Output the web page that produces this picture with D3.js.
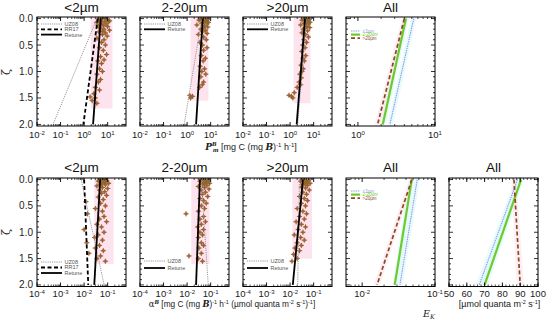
<!DOCTYPE html>
<html>
<head>
<meta charset="utf-8">
<script src="https://cdn.jsdelivr.net/npm/d3@7"></script>
<style>
  body { margin: 0; background: #fff; }
  svg { font-family: "Liberation Sans", Arial, sans-serif; }
</style>
</head>
<body>
<div id="chart"></div>
<script>
// ---- data ----
const sizeClasses = ["<2µm", "2-20µm", ">20µm"];
const zetaTicks = [0, 0.5, 1, 1.5, 2];
const lineZeta = [0, 2];

// Pm^B observations [zeta, value]
const pmSmall = [[0.00,6.0],[0.01,4.0],[0.02,9.5],[0.03,4.5],[0.04,12],[0.05,7.5],[0.06,11],[0.07,3.4],[0.08,5.5],[0.1,8.5],[0.11,4.8],[0.12,3.8],[0.13,6.5],[0.15,10],[0.16,4.4],[0.18,5],[0.2,7],[0.22,12],[0.24,6],[0.25,4.2],[0.27,8],[0.3,6],[0.33,9.5],[0.37,3.5],[0.4,7],[0.45,5.5],[0.5,8],[0.55,4.5],[0.6,6.5],[0.68,9],[0.72,5],[0.78,7],[0.8,3.8],[0.85,5.5],[0.95,4.5],[1.0,6],[1.05,3.5],[1.15,5],[1.2,4],[1.3,3],[1.35,4.5],[1.42,2.6],[1.48,1.8],[1.5,3],[1.55,2.2],[1.6,3.5]];
const pmMid = [[0.0,5],[0.01,3.6],[0.02,7.5],[0.03,3.2],[0.04,5.8],[0.05,6.5],[0.07,8],[0.08,4.6],[0.09,4.2],[0.1,7],[0.12,2.6],[0.14,5.5],[0.16,7.5],[0.18,4.8],[0.2,3.8],[0.22,6],[0.25,4.5],[0.28,7],[0.3,3],[0.35,5],[0.4,6.5],[0.45,3.5],[0.5,4.5],[0.55,7],[0.6,5],[0.7,4],[0.75,6],[0.8,4.8],[0.9,3.6],[0.95,5.5],[1.0,4.2],[1.05,6.2],[1.1,3.8],[1.2,5],[1.25,4.4],[1.3,3.4],[1.45,1.3],[1.47,1.7],[1.5,1.4]];
const pmLarge = [[0.0,4.5],[0.01,3.8],[0.02,6.5],[0.03,3.2],[0.04,5.2],[0.05,5.5],[0.07,7],[0.08,4.8],[0.09,4],[0.1,6],[0.12,2.8],[0.15,5],[0.17,6.8],[0.18,4.2],[0.2,3.6],[0.23,5.5],[0.27,3.2],[0.3,4.5],[0.35,6],[0.4,3.8],[0.45,5],[0.5,3.4],[0.55,4.3],[0.62,3.1],[0.7,4.6],[0.75,3.5],[0.8,4],[0.88,2.9],[0.95,3.6],[1.0,3.2],[1.05,2.6],[1.12,3],[1.2,2.4],[1.25,2.8],[1.3,2],[1.4,1.5],[1.45,0.9],[1.47,1.15],[1.5,1.3]];

// alpha^B observations [zeta, value]
const alphaSmall = [[0.0,0.06],[0.01,0.045],[0.02,0.09],[0.03,0.04],[0.04,0.075],[0.05,0.07],[0.07,0.11],[0.08,0.055],[0.09,0.05],[0.1,0.08],[0.12,0.035],[0.15,0.06],[0.17,0.1],[0.2,0.045],[0.23,0.075],[0.26,0.055],[0.3,0.09],[0.33,0.04],[0.38,0.065],[0.42,0.012],[0.45,0.05],[0.5,0.08],[0.55,0.03],[0.6,0.06],[0.65,0.014],[0.7,0.07],[0.75,0.045],[0.8,0.09],[0.85,0.035],[0.9,0.055],[0.95,0.01],[1.0,0.07],[1.05,0.04],[1.1,0.028],[1.15,0.06],[1.2,0.013],[1.25,0.045],[1.3,0.03],[1.35,0.065],[1.4,0.016],[1.45,0.05],[1.5,0.035],[1.55,0.08]];
const alphaMid = [[0.0,0.05],[0.01,0.04],[0.02,0.08],[0.03,0.035],[0.04,0.06],[0.05,0.065],[0.07,0.09],[0.08,0.052],[0.09,0.045],[0.11,0.07],[0.13,0.03],[0.15,0.055],[0.18,0.085],[0.2,0.04],[0.24,0.06],[0.28,0.045],[0.32,0.075],[0.36,0.035],[0.4,0.05],[0.45,0.065],[0.5,0.04],[0.55,0.055],[0.6,0.03],[0.65,0.009],[0.7,0.05],[0.75,0.035],[0.8,0.06],[0.85,0.04],[0.9,0.028],[0.95,0.05],[1.0,0.035],[1.05,0.045],[1.1,0.03],[1.2,0.04],[1.25,0.05],[1.3,0.032],[1.4,0.04],[1.45,0.012],[1.5,0.03],[1.55,0.045]];
const alphaLarge = [[0.0,0.04],[0.01,0.033],[0.02,0.06],[0.03,0.028],[0.04,0.048],[0.05,0.05],[0.07,0.07],[0.08,0.042],[0.09,0.035],[0.11,0.055],[0.14,0.03],[0.16,0.045],[0.2,0.065],[0.24,0.035],[0.28,0.05],[0.32,0.025],[0.36,0.04],[0.4,0.055],[0.45,0.03],[0.5,0.045],[0.55,0.02],[0.6,0.035],[0.65,0.05],[0.7,0.025],[0.75,0.04],[0.8,0.018],[0.85,0.03],[0.9,0.045],[0.95,0.022],[1.0,0.035],[1.05,0.015],[1.1,0.028],[1.15,0.04],[1.2,0.02],[1.25,0.03],[1.3,0.016],[1.35,0.025],[1.42,0.014],[1.5,0.02],[1.55,0.012]];

// shaded observation ranges [low, high, zeta max]
const pmObsRange = [[1.9, 16, 1.7], [1.4, 8, 1.55], [1.4, 7.3, 1.6]];
const alphaObsRange = [[0.027, 0.18, 1.6], [0.015, 0.089, 1.6], [0.0125, 0.085, 1.5]];

// model lines: value at zeta = 0 and zeta = 2
const pmUZ08 = [[3.5, 0.048], [4.2, 0.75], [4.8, 2.1]];
const pmRR17 = [3.8, 0.93];
const pmRetune = [[5.1, 2.4], [4.6, 2.4], [4.3, 1.9]];
const alphaUZ08 = [[0.0075, 0.071], [0.04, 0.079], [0.025, 0.021]];
const alphaRR17 = [0.010, 0.015];
const alphaRetune = [[0.048, 0.027], [0.035, 0.024], [0.035, 0.013]];

// "All" panels, one line per size class + faint band [lo0, hi0, lo2, hi2]
const pmAll = [[5.3, 2.6], [4.2, 2.1], [4.0, 1.8]];
const alphaAll = [[0.057, 0.033], [0.048, 0.028], [0.048, 0.016]];
const ekAll = [[88.5, 67], [90.5, 70], [86.5, 90]];
const pmAllBand = [[4.9, 5.7, 2.4, 2.85], [3.9, 4.6, 1.9, 2.3], [3.7, 4.4, 1.65, 2.0]];
const alphaAllBand = [[0.052, 0.062, 0.03, 0.036], [0.044, 0.052, 0.026, 0.031], [0.044, 0.052, 0.0145, 0.0175]];
const ekAllBand = [[87, 90, 65, 69], [89, 92, 68, 72], [85, 88, 88, 92]];

// ---- layout ----
const W = 550, H = 320;
const rowTop = [17, 178];
const rowBottom = [126, 286.5];
const colLeft = [37, 140, 243, 346, 449];
const panelW = 89;

const styles = {
  uz: { stroke: "#9a9a9a", width: 1, dash: "1.2,1" },
  rr: { stroke: "#000", width: 1.8, dash: "4,2.5" },
  retune: { stroke: "#000", width: 1.8, dash: null },
  c0: { stroke: "#8c9ee6", width: 1.1, dash: "1.5,0.8" },
  c1: { stroke: "#6acc2c", width: 2.2, dash: null },
  c2: { stroke: "#8b4a1c", width: 1.7, dash: "4,2.5" }
};
const legendNames = { uz: "UZ08", rr: "RR17", retune: "Retune", c0: "<2µm", c1: "2-20µm", c2: ">20µm" };
const bandFill = ["#d9f7f9", "#d9f7f9", "#fbe3ee"];

const svg = d3.select("#chart").append("svg").attr("width", W).attr("height", H);

// text with superscripts / subscripts
function richText(sel, x, y, parts, opts = {}) {
  const t = sel.append("text")
    .attr("x", x).attr("y", y)
    .attr("text-anchor", opts.anchor || "middle")
    .attr("font-size", opts.size || 9.5)
    .attr("fill", opts.fill || "#222");
  let shift = 0;
  parts.forEach((p) => {
    const s = t.append("tspan").text(p.t);
    const ns = p.shift || 0;
    if (ns !== shift) s.attr("dy", ns - shift);
    shift = ns;
    if (p.size) s.attr("font-size", p.size);
    if (p.dx) s.attr("dx", p.dx);
    if (p.font) s.attr("font-family", p.font);
    if (p.italic) s.attr("font-style", "italic");
    if (p.bold) s.attr("font-weight", "bold");
  });
  return t;
}

function powLabel(exp) {
  return [{ t: "10" }, { t: String(exp), shift: -3.5, size: 6 }];
}

function panel(cfg) {
  const top = rowTop[cfg.row], bottom = rowBottom[cfg.row];
  const left = colLeft[cfg.col], right = left + panelW;
  const x = cfg.log
    ? d3.scaleLog(cfg.domain, [left, right])
    : d3.scaleLinear(cfg.domain, [left, right]);
  const y = d3.scaleLinear([-0.03, 2.03], [top, bottom]);

  const g = svg.append("g");
  const clipId = `clip-${cfg.row}-${cfg.col}`;
  g.append("clipPath").attr("id", clipId)
    .append("rect").attr("x", left).attr("y", top)
    .attr("width", panelW).attr("height", bottom - top);
  const plot = g.append("g").attr("clip-path", `url(#${clipId})`);

  const line = d3.line().x((d) => x(d[1])).y((d) => y(d[0]));

  // faint bands around "All" lines
  (cfg.bands || []).forEach((b, i) => {
    plot.append("path")
      .attr("d", line([[0, b[0]], [2, b[2]], [2, b[3]], [0, b[1]]]) + "Z")
      .attr("fill", bandFill[i]).attr("opacity", 0.6);
  });

  // observation range shading
  if (cfg.obsRange) {
    const r = cfg.obsRange;
    plot.append("rect")
      .attr("x", x(r[0])).attr("y", y(-0.03))
      .attr("width", x(r[1]) - x(r[0]))
      .attr("height", y(r[2]) - y(-0.03))
      .attr("fill", "#fce3ee");
  }

  // observations
  if (cfg.points) {
    plot.append("g").selectAll("circle").data(cfg.points).join("circle")
      .attr("cx", (d) => x(d[1])).attr("cy", (d) => y(d[0]))
      .attr("r", 1.8).attr("fill", "#ee2a30").attr("opacity", 0.65);
    plot.append("g").selectAll("path").data(cfg.points).join("path")
      .attr("d", (d) => {
        const px = x(d[1]), py = y(d[0]);
        return `M${px - 2.6},${py}H${px + 2.6}M${px},${py - 2.6}V${py + 2.6}`;
      })
      .attr("stroke", "#866a2c").attr("stroke-width", 1).attr("fill", "none");
  }

  // model lines
  cfg.lines.forEach((l) => {
    const st = styles[l.style];
    plot.append("path")
      .attr("d", line(lineZeta.map((z, i) => [z, l.v[i]])))
      .attr("fill", "none").attr("stroke", st.stroke)
      .attr("stroke-width", st.width)
      .attr("stroke-dasharray", st.dash);
  });

  // legend
  if (cfg.legend) {
    const lg = cfg.legend;
    lg.items.forEach((k, i) => {
      const st = styles[k];
      const ly = top + lg.y0 + i * lg.dy;
      g.append("line")
        .attr("x1", left + lg.x0).attr("x2", left + lg.x1)
        .attr("y1", ly).attr("y2", ly)
        .attr("stroke", st.stroke).attr("stroke-width", st.width)
        .attr("stroke-dasharray", st.dash);
      g.append("text")
        .attr("x", left + lg.x1 + 2.5).attr("y", ly + lg.fs * 0.35)
        .attr("font-size", lg.fs).attr("fill", k.startsWith("c") ? st.stroke : "#555")
        .text(legendNames[k]);
    });
  }

  // box
  g.append("rect").attr("x", left).attr("y", top)
    .attr("width", panelW).attr("height", bottom - top)
    .attr("fill", "none").attr("stroke", "#000").attr("stroke-width", 1);

  // y ticks (both sides, inward)
  const yMinor = d3.range(0, 2.01, 0.1);
  yMinor.forEach((z) => {
    const major = zetaTicks.some((t) => Math.abs(t - z) < 1e-6);
    const len = major ? 4 : 2;
    g.append("path")
      .attr("d", `M${left},${y(z)}h${len}M${right},${y(z)}h${-len}`)
      .attr("stroke", "#000").attr("stroke-width", 0.8);
  });
  if (cfg.col === 0) {
    zetaTicks.forEach((z) => {
      g.append("text")
        .attr("x", left - 4).attr("y", y(z) + 3.5)
        .attr("text-anchor", "end").attr("font-size", 10).attr("fill", "#222")
        .text(d3.format(".1f")(z));
    });
  }

  // x ticks (top and bottom, inward)
  const xMinor = [];
  if (cfg.log) {
    const lo = Math.floor(Math.log10(cfg.domain[0]));
    const hi = Math.ceil(Math.log10(cfg.domain[1]));
    for (let e = lo; e <= hi; e++) {
      for (let m = 2; m <= 9; m++) {
        const v = m * Math.pow(10, e);
        if (v > cfg.domain[0] && v < cfg.domain[1]) xMinor.push(v);
      }
    }
  } else {
    d3.range(cfg.domain[0], cfg.domain[1] + 0.01, 2).forEach((v) => xMinor.push(v));
  }
  xMinor.forEach((v) => {
    g.append("path").attr("d", `M${x(v)},${bottom}v-2M${x(v)},${top}v2`)
      .attr("stroke", "#000").attr("stroke-width", 0.7);
  });
  cfg.xMajor.forEach((v) => {
    g.append("path").attr("d", `M${x(v)},${bottom}v-4M${x(v)},${top}v4`)
      .attr("stroke", "#000").attr("stroke-width", 0.9);
    const labY = cfg.row === 0 ? 138 : 297;
    if (cfg.log) {
      richText(g, x(v), labY, powLabel(Math.round(Math.log10(v))));
    } else {
      richText(g, x(v), labY, [{ t: String(v) }]);
    }
  });

  // title
  g.append("text")
    .attr("x", (left + right) / 2).attr("y", cfg.row === 0 ? 12 : 172)
    .attr("text-anchor", "middle").attr("font-size", 13.5).attr("fill", "#111")
    .text(cfg.title);
}

const pmPoints = [pmSmall, pmMid, pmLarge];
const alphaPoints = [alphaSmall, alphaMid, alphaLarge];
const pmDomain = [0.01, 60];
const alphaDomain = [1e-4, 0.6];
const pmMajor = [0.01, 0.1, 1, 10];
const alphaMajor = [1e-4, 1e-3, 1e-2, 1e-1];

// size-class panels
sizeClasses.forEach((name, i) => {
  const pmLines = [{ v: pmUZ08[i], style: "uz" }];
  const alphaLines = [{ v: alphaUZ08[i], style: "uz" }];
  if (i === 0) {
    pmLines.push({ v: pmRR17, style: "rr" });
    alphaLines.push({ v: alphaRR17, style: "rr" });
  }
  pmLines.push({ v: pmRetune[i], style: "retune" });
  alphaLines.push({ v: alphaRetune[i], style: "retune" });
  const items = pmLines.map((l) => l.style);

  panel({
    row: 0, col: i, title: name, log: true, domain: pmDomain, xMajor: pmMajor,
    points: pmPoints[i], obsRange: pmObsRange[i], lines: pmLines,
    legend: { items, x0: 4, x1: 25, y0: 7, dy: 5.3, fs: 5.5 }
  });
  panel({
    row: 1, col: i, title: name, log: true, domain: alphaDomain, xMajor: alphaMajor,
    points: alphaPoints[i], obsRange: alphaObsRange[i], lines: alphaLines,
    legend: items.length === 3
      ? { items, x0: 4, x1: 25, y0: 84, dy: 5.5, fs: 5.5 }
      : { items, x0: 4, x1: 25, y0: 83, dy: 7, fs: 5.5 }
  });
});

const allItems = ["c0", "c1", "c2"];
panel({
  row: 0, col: 3, title: "All", log: true, domain: [0.7, 10], xMajor: [1, 10],
  bands: pmAllBand,
  lines: pmAll.map((v, i) => ({ v, style: allItems[i] })),
  legend: { items: allItems, x0: 5, x1: 14, y0: 14, dy: 3.6, fs: 4.5 }
});
panel({
  row: 1, col: 3, title: "All", log: true, domain: [0.006, 0.1], xMajor: [0.01, 0.1],
  bands: alphaAllBand,
  lines: alphaAll.map((v, i) => ({ v, style: allItems[i] })),
  legend: { items: allItems, x0: 5, x1: 14, y0: 13, dy: 3.6, fs: 4.5 }
});
panel({
  row: 1, col: 4, title: "All", log: false, domain: [50, 100], xMajor: d3.range(50, 101, 10),
  bands: ekAllBand,
  lines: ekAll.map((v, i) => ({ v, style: allItems[i] }))
});

// axis labels
const serif = "'DejaVu Serif', 'Liberation Serif', serif";
[72, 232].forEach((cy) => {
  svg.append("text")
    .attr("transform", `translate(10,${cy}) rotate(-90)`)
    .attr("text-anchor", "middle").attr("font-size", 11)
    .attr("font-family", serif).attr("fill", "#222")
    .text("ζ");
});

richText(svg, 251, 150, [
  { t: "P", font: serif, italic: true, bold: true },
  { t: "B", shift: -4, size: 5.5, font: serif, italic: true, bold: true },
  { t: "m", shift: 2, size: 5.5, dx: -4, font: serif, italic: true, bold: true },
  { t: " [mg C (mg " },
  { t: "B", font: serif, italic: true, bold: true },
  { t: ")" },
  { t: "-1", shift: -3.5, size: 6 },
  { t: " h" },
  { t: "-1", shift: -3.5, size: 6 },
  { t: "]" }
], { size: 9 });

richText(svg, 232, 307, [
  { t: "α", font: serif },
  { t: "B", shift: -3.5, size: 5.5, font: serif, italic: true, bold: true },
  { t: " [mg C (mg " },
  { t: "B", font: serif, italic: true, bold: true },
  { t: ")" },
  { t: "-1", shift: -3.5, size: 5.5 },
  { t: " h" },
  { t: "-1", shift: -3.5, size: 5.5 },
  { t: " (µmol quanta m" },
  { t: "-2", shift: -3.5, size: 5.5 },
  { t: " s" },
  { t: "-1", shift: -3.5, size: 5.5 },
  { t: ")" },
  { t: "-1", shift: -3.5, size: 5.5 },
  { t: "]" }
], { size: 8.3 });

richText(svg, 499.5, 307, [
  { t: "[µmol quanta m" },
  { t: "-2", shift: -3.5, size: 5.5 },
  { t: " s" },
  { t: "-1", shift: -3.5, size: 5.5 },
  { t: "]" }
], { size: 9 });

richText(svg, 429, 317, [
  { t: "E", font: serif, italic: true },
  { t: "K", shift: 2, size: 6.5, font: serif, italic: true }
], { size: 9.5 });
</script>
</body>
</html>
